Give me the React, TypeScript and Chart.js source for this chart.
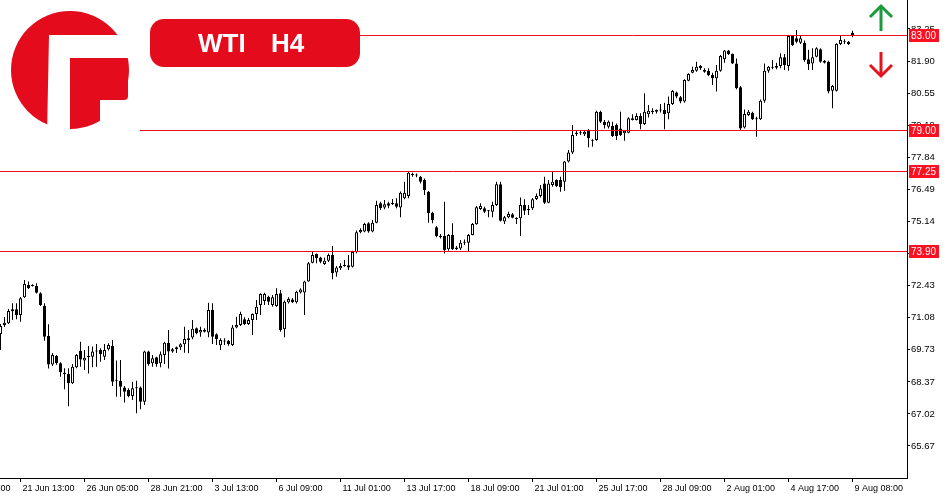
import React, { useEffect, useRef } from 'react';
import { Chart, registerables } from 'chart.js';

Chart.register(...registerables);

// ---- DATA (WTI, H4) ----
const opens = [
  70.39, 70.77, 70.84, 71.35, 71.43, 71.19, 71.94, 72.46, 72.43, 72.41,
  72.11, 71.57, 70.31, 69.11, 69.46, 69.16, 68.76, 68.70, 68.31, 68.99,
  69.69, 69.27, 69.41, 69.43, 69.65, 69.72, 69.43, 69.75, 69.89, 68.45,
  68.42, 68.14, 68.03, 67.78, 68.14, 68.14, 67.54, 69.65, 69.16, 69.41,
  69.16, 69.51, 70.02, 69.65, 69.75, 69.83, 69.96, 70.21, 70.24, 70.63,
  70.45, 70.56, 70.45, 71.40, 70.38, 69.92, 70.12, 70.11, 69.93, 70.67,
  70.77, 71.01, 70.81, 70.98, 71.23, 71.61, 71.78, 71.96, 71.61, 71.57,
  72.11, 70.59, 71.73, 71.85, 71.73, 72.14, 72.14, 72.60, 73.40, 73.76,
  73.62, 73.34, 73.48, 73.72, 72.98, 73.16, 73.26, 73.29, 73.23, 73.84,
  74.68, 74.71, 75.06, 74.71, 75.08, 75.90, 75.72, 75.90, 75.87, 75.90,
  75.72, 76.11, 76.21, 77.14, 77.10, 77.02, 76.88, 76.39, 75.50, 74.89,
  74.52, 74.52, 73.96, 74.57, 74.04, 74.00, 74.24, 74.24, 74.57, 75.02,
  75.66, 75.69, 75.59, 75.55, 75.83, 76.71, 75.13, 75.31, 75.44, 75.27,
  75.27, 75.83, 75.62, 75.69, 76.08, 76.21, 76.74, 75.93, 76.67, 76.88,
  76.88, 76.81, 77.66, 78.04, 78.82, 78.88, 78.81, 78.99, 78.57, 78.57,
  79.76, 79.34, 79.13, 79.16, 79.20, 79.06, 78.85, 78.88, 79.49, 79.41,
  79.58, 79.24, 79.66, 79.80, 79.76, 79.84, 79.84, 79.70, 80.09, 80.57,
  80.37, 80.19, 81.07, 81.41, 81.49, 81.69, 81.52, 81.49, 81.31, 81.17,
  81.49, 81.97, 82.34, 82.20, 81.80, 80.79, 79.10, 79.62, 79.72, 79.49,
  79.44, 80.22, 81.49, 81.62, 81.62, 81.69, 82.06, 81.69, 82.96, 82.86,
  82.67, 82.67, 81.97, 81.80, 82.08, 82.40, 81.90, 81.87, 80.65, 80.65,
  82.62, 82.74, 82.71, 83.09,
];

const highs = [
  70.81, 71.11, 71.45, 71.69, 71.69, 71.95, 72.67, 72.60, 72.49, 72.53,
  72.15, 71.69, 70.80, 69.59, 69.51, 69.20, 68.95, 68.95, 69.13, 69.55,
  70.07, 69.72, 69.89, 69.86, 69.97, 69.79, 69.97, 70.00, 70.14, 69.27,
  69.30, 68.20, 68.10, 68.38, 68.42, 68.18, 69.69, 69.69, 69.51, 69.43,
  69.65, 70.07, 70.56, 69.80, 69.86, 70.00, 70.70, 70.56, 70.98, 70.67,
  70.70, 70.63, 71.71, 71.69, 70.42, 70.21, 70.21, 70.14, 70.77, 71.12,
  71.33, 71.10, 71.07, 71.26, 71.82, 72.11, 72.13, 72.00, 72.04, 72.32,
  72.25, 71.80, 71.94, 71.91, 72.21, 72.32, 72.64, 73.43, 73.86, 73.79,
  73.65, 73.62, 73.79, 74.10, 73.26, 73.37, 73.51, 73.72, 73.90, 74.75,
  74.85, 75.08, 75.10, 75.20, 76.01, 75.97, 76.04, 75.97, 76.08, 76.11,
  76.40, 76.81, 77.23, 77.19, 77.16, 77.05, 76.95, 76.42, 75.55, 74.94,
  74.61, 75.97, 74.61, 75.06, 74.10, 74.35, 74.38, 74.61, 75.07, 75.79,
  75.90, 75.76, 75.62, 75.97, 76.81, 76.81, 75.37, 75.55, 75.49, 75.31,
  76.15, 76.07, 75.83, 76.12, 76.32, 76.67, 77.02, 76.88, 77.23, 76.92,
  77.02, 77.68, 78.15, 79.20, 78.96, 78.96, 78.99, 79.03, 78.60, 79.80,
  79.80, 79.41, 79.39, 79.34, 79.27, 79.76, 78.99, 79.53, 79.66, 79.70,
  79.70, 80.54, 80.05, 79.91, 79.86, 80.09, 80.14, 80.40, 80.68, 80.61,
  80.43, 81.13, 81.38, 81.66, 81.87, 81.73, 81.59, 81.59, 81.41, 81.73,
  82.15, 82.36, 82.36, 82.22, 82.01, 80.85, 79.86, 79.83, 79.76, 79.55,
  80.28, 81.80, 81.69, 81.94, 81.83, 82.23, 82.20, 83.00, 83.00, 83.21,
  82.96, 82.76, 82.37, 82.44, 82.48, 82.44, 81.94, 81.91, 80.89, 82.65,
  83.00, 82.82, 82.74, 83.18,
];

const lows = [
  69.72, 70.69, 70.81, 70.98, 71.01, 70.91, 71.91, 72.29, 72.39, 72.10,
  71.57, 70.11, 68.94, 69.04, 69.10, 68.59, 68.06, 67.35, 68.28, 68.95,
  69.01, 68.87, 68.73, 68.99, 69.01, 69.22, 69.30, 69.70, 68.20, 67.75,
  67.75, 67.50, 67.72, 67.61, 67.05, 67.22, 67.40, 69.05, 69.01, 69.01,
  68.99, 69.13, 68.94, 69.60, 69.59, 69.72, 69.60, 69.58, 70.17, 70.38,
  70.28, 70.45, 70.25, 69.97, 69.93, 69.72, 69.93, 69.90, 69.89, 70.63,
  70.73, 70.77, 70.77, 70.35, 70.98, 71.19, 71.61, 71.61, 71.54, 71.54,
  70.49, 70.25, 71.68, 71.70, 71.68, 72.10, 71.19, 72.59, 73.37, 73.37,
  73.37, 73.30, 73.43, 72.70, 72.81, 73.09, 73.23, 73.09, 73.20, 73.80,
  74.64, 74.68, 74.66, 74.68, 75.06, 75.62, 75.65, 75.69, 75.83, 75.69,
  75.31, 76.07, 76.11, 77.02, 77.00, 76.74, 76.25, 75.08, 75.06, 74.47,
  74.42, 73.79, 73.90, 73.93, 73.93, 73.93, 74.14, 73.86, 74.55, 75.00,
  75.62, 75.49, 75.31, 75.31, 75.79, 75.13, 75.03, 75.27, 75.27, 75.03,
  74.52, 75.41, 75.41, 75.62, 76.04, 76.15, 75.87, 75.90, 76.60, 76.59,
  76.39, 76.43, 77.62, 77.98, 78.74, 78.78, 78.74, 78.26, 78.29, 78.54,
  79.29, 79.06, 79.06, 78.70, 78.57, 78.74, 78.54, 78.85, 79.39, 79.39,
  79.02, 79.20, 79.52, 79.66, 79.69, 79.73, 79.02, 79.44, 80.05, 80.33,
  80.12, 80.14, 81.05, 81.38, 81.45, 81.52, 81.41, 81.27, 80.89, 80.61,
  81.45, 81.83, 82.15, 81.77, 80.71, 78.99, 79.06, 79.58, 79.41, 78.71,
  79.41, 80.14, 81.41, 81.55, 81.55, 81.59, 81.52, 81.49, 82.53, 82.65,
  82.62, 81.87, 81.52, 81.52, 82.06, 81.83, 81.80, 80.54, 79.91, 80.61,
  82.58, 82.62, 82.58, 82.90,
];

const closes = [
  70.73, 70.87, 71.36, 71.43, 71.19, 71.90, 72.50, 72.32, 72.42, 72.13,
  71.61, 70.28, 69.11, 69.51, 69.16, 68.78, 68.70, 68.31, 69.01, 69.51,
  69.32, 69.39, 69.46, 69.65, 69.68, 69.55, 69.72, 69.93, 68.38, 68.42,
  68.17, 67.96, 67.78, 68.10, 68.10, 67.54, 69.65, 69.13, 69.37, 69.13,
  69.54, 70.02, 69.65, 69.75, 69.83, 69.96, 70.18, 70.14, 70.61, 70.42,
  70.56, 70.49, 71.40, 70.28, 70.17, 70.14, 70.08, 69.97, 70.67, 70.77,
  71.23, 70.81, 70.98, 71.23, 71.54, 72.08, 72.08, 71.75, 71.94, 72.08,
  70.56, 71.75, 71.87, 71.73, 72.17, 72.27, 72.60, 73.37, 73.72, 73.58,
  73.44, 73.48, 73.72, 72.95, 73.20, 73.26, 73.29, 73.20, 73.85, 74.68,
  74.78, 75.03, 74.71, 75.08, 75.83, 75.69, 75.86, 75.80, 75.90, 75.76,
  76.35, 76.35, 77.19, 77.10, 77.07, 76.81, 76.46, 75.48, 75.20, 74.52,
  74.47, 73.93, 74.57, 73.96, 73.96, 74.24, 74.28, 74.57, 75.03, 75.73,
  75.79, 75.55, 75.57, 75.83, 76.71, 75.17, 75.31, 75.45, 75.29, 75.24,
  75.83, 75.59, 75.65, 76.07, 76.21, 76.53, 75.93, 76.74, 76.81, 76.63,
  76.58, 77.66, 78.04, 78.78, 78.88, 78.85, 78.92, 78.64, 78.54, 79.76,
  79.34, 79.20, 79.34, 78.74, 78.74, 78.78, 78.96, 79.49, 79.41, 79.58,
  79.24, 79.76, 79.80, 79.75, 79.84, 79.81, 79.67, 80.09, 80.64, 80.40,
  80.19, 81.10, 81.35, 81.52, 81.66, 81.59, 81.45, 81.31, 81.17, 81.49,
  82.11, 82.34, 82.20, 81.80, 80.75, 79.06, 79.67, 79.76, 79.44, 79.44,
  80.22, 81.49, 81.66, 81.66, 81.69, 82.06, 81.73, 82.96, 82.58, 82.71,
  82.86, 81.94, 81.76, 82.06, 82.44, 81.87, 81.83, 80.61, 80.85, 82.62,
  82.79, 82.71, 82.62, 83.00,
];

// bar index at which each time label sits
const timeTickBars = [-11, 5, 21, 37, 53, 69, 85, 101, 117, 133, 149, 165, 181, 197, 213];
const timeTickLabels = [
  '16 Jun 21:00', '21 Jun 13:00', '26 Jun 05:00', '28 Jun 21:00', '3 Jul 13:00',
  '6 Jul 09:00', '11 Jul 01:00', '13 Jul 17:00', '18 Jul 09:00', '21 Jul 01:00',
  '25 Jul 17:00', '28 Jul 09:00', '2 Aug 01:00', '4 Aug 17:00', '9 Aug 08:00',
];

const priceTicks = [83.25, 81.90, 80.55, 79.19, 77.84, 76.49, 75.14, 73.79, 72.43, 71.08, 69.73, 68.37, 67.02, 65.67];

const levelPrices = [83.00, 79.00, 77.25, 73.90];
const levelStartBars = [89.9, 34.4, -1, -1];

const RED = '#e30b1c';
const LINE_RED = '#e8101c';
const GREEN = '#1a9a3a';
const FONT = '"Liberation Sans", Arial, sans-serif';

const overlayPlugin = {
  id: 'overlay',
  afterDatasetsDraw(chart: any) {
    const { ctx, chartArea, scales } = chart;
    const xs = scales.x;
    const ys = scales.y;
    ctx.save();
    ctx.beginPath();
    ctx.rect(0, 0, chartArea.right, chartArea.bottom);
    ctx.clip();
    ctx.strokeStyle = LINE_RED;
    ctx.lineWidth = 1;
    levelPrices.forEach((p, i) => {
      const y = Math.round(ys.getPixelForValue(p)) + 0.5;
      const x0 = levelStartBars[i] < 0 ? 0 : Math.round(xs.getPixelForValue(levelStartBars[i]));
      ctx.beginPath();
      ctx.moveTo(x0, y);
      ctx.lineTo(chartArea.right, y);
      ctx.stroke();
    });
    ctx.restore();
  },
  afterDraw(chart: any) {
    const { ctx, chartArea, scales } = chart;
    const ys = scales.y;
    ctx.save();
    // price boxes on the axis
    levelPrices.forEach((p) => {
      const y = Math.round(ys.getPixelForValue(p));
      ctx.fillStyle = '#ff1020';
      ctx.fillRect(chartArea.right + 2, y - 6, 30, 13);
      ctx.fillStyle = '#fff';
      ctx.font = '10px ' + FONT;
      ctx.textAlign = 'left';
      ctx.textBaseline = 'middle';
      ctx.fillText(p.toFixed(2), chartArea.right + 4, y + 1);
    });

    // logo
    ctx.fillStyle = RED;
    ctx.beginPath();
    ctx.arc(70, 70, 59, 0, Math.PI * 2);
    ctx.fill();
    ctx.fillStyle = '#fff';
    ctx.beginPath();
    ctx.moveTo(49, 35);
    ctx.lineTo(140, 35);
    ctx.lineTo(140, 58);
    ctx.lineTo(70, 58);
    ctx.lineTo(70, 135);
    ctx.lineTo(47, 135);
    ctx.closePath();
    ctx.fill();
    ctx.fillRect(100, 100, 40, 40);
    ctx.fillStyle = RED;
    ctx.beginPath();
    (ctx as any).roundRect(70, 58, 58, 42, [0, 4, 4, 0]);
    ctx.fill();
    ctx.fillRect(70, 99, 30, 10);

    // banner
    ctx.fillStyle = RED;
    ctx.beginPath();
    (ctx as any).roundRect(150, 19, 210, 48, 14);
    ctx.fill();
    ctx.fillStyle = '#fff';
    ctx.font = 'bold 26px ' + FONT;
    ctx.textAlign = 'left';
    ctx.textBaseline = 'alphabetic';
    ctx.fillText('WTI', 198, 52);
    ctx.fillText('H4', 271, 52);

    // arrows
    ctx.lineWidth = 3;
    ctx.lineCap = 'butt';
    ctx.lineJoin = 'miter';
    ctx.strokeStyle = GREEN;
    ctx.beginPath();
    ctx.moveTo(881, 31);
    ctx.lineTo(881, 7);
    ctx.stroke();
    ctx.beginPath();
    ctx.moveTo(870, 17);
    ctx.lineTo(881, 6);
    ctx.lineTo(892, 17);
    ctx.stroke();
    ctx.strokeStyle = '#e4141e';
    ctx.beginPath();
    ctx.moveTo(881, 52);
    ctx.lineTo(881, 75);
    ctx.stroke();
    ctx.beginPath();
    ctx.moveTo(870, 65);
    ctx.lineTo(881, 76);
    ctx.lineTo(892, 65);
    ctx.stroke();
    ctx.restore();
  },
};

export default function App() {
  const canvasRef = useRef<HTMLCanvasElement | null>(null);

  useEffect(() => {
    document.body.style.margin = '0';
    const canvas = canvasRef.current;
    if (!canvas) return;

    const bodies = opens.map((o, i) => ({ x: i, y: [Math.min(o, closes[i]), Math.max(o, closes[i])] }));
    const wicks = lows.map((l, i) => ({ x: i, y: [l, highs[i]] }));
    const bodyColors = opens.map((o, i) => (closes[i] >= o ? '#ffffff' : '#000000'));

    const chart = new Chart(canvas, {
      type: 'bar',
      data: {
        datasets: [
          {
            data: bodies as any,
            backgroundColor: bodyColors,
            borderColor: '#000',
            borderWidth: 1,
            borderSkipped: false,
            barThickness: 3,
            minBarLength: 1,
            grouped: false,
            inflateAmount: 0,
            order: 0,
          } as any,
          {
            data: wicks as any,
            backgroundColor: '#000',
            borderWidth: 0,
            barThickness: 1,
            minBarLength: 1,
            grouped: false,
            inflateAmount: 0,
            order: 1,
          } as any,
        ],
      },
      options: {
        animation: false,
        responsive: false,
        devicePixelRatio: 1,
        events: [],
        layout: { padding: 0 },
        plugins: { legend: { display: false }, tooltip: { enabled: false }, title: { display: false } },
        scales: {
          x: {
            type: 'linear',
            position: 'bottom',
            offset: false,
            min: -0.125,
            max: 226.625,
            bounds: 'data',
            grid: { display: true, offset: false, drawOnChartArea: false, drawTicks: true, tickLength: 4, color: '#000', lineWidth: 1 },
            border: { display: true, color: '#000', width: 1 },
            ticks: {
              autoSkip: false,
              maxRotation: 0,
              minRotation: 0,
              align: 'start',
              labelOffset: 2,
              padding: 1,
              color: '#000',
              font: { family: FONT, size: 9 },
              callback: (v: any) => {
                const k = timeTickBars.indexOf(Number(v));
                return k >= 0 ? timeTickLabels[k] : '';
              },
            },
            afterBuildTicks: (s: any) => {
              s.ticks = timeTickBars.map((v) => ({ value: v }));
            },
            afterFit: (s: any) => {
              s.height = 22;
              s.paddingLeft = 0;
              s.paddingRight = 0;
            },
          } as any,
          y: {
            type: 'linear',
            position: 'right',
            min: 64.3206,
            max: 84.4726,
            bounds: 'data',
            grid: { display: true, drawOnChartArea: false, drawTicks: true, tickLength: 3, color: '#000', lineWidth: 1 },
            border: { display: true, color: '#000', width: 1 },
            ticks: {
              padding: 1,
              color: '#000',
              font: { family: FONT, size: 9.5 },
              callback: (v: any) => Number(v).toFixed(2),
            },
            afterBuildTicks: (s: any) => {
              s.ticks = priceTicks.map((v) => ({ value: v }));
            },
            afterFit: (s: any) => {
              s.width = 43;
              s.paddingTop = 0;
              s.paddingBottom = 0;
            },
          } as any,
        },
      },
      plugins: [overlayPlugin],
    });

    return () => {
      chart.destroy();
    };
  }, []);

  return (
    <div style={{ width: 950, height: 500, background: '#fff' }}>
      <canvas ref={canvasRef} width={950} height={500} style={{ display: 'block' }} />
    </div>
  );
}
